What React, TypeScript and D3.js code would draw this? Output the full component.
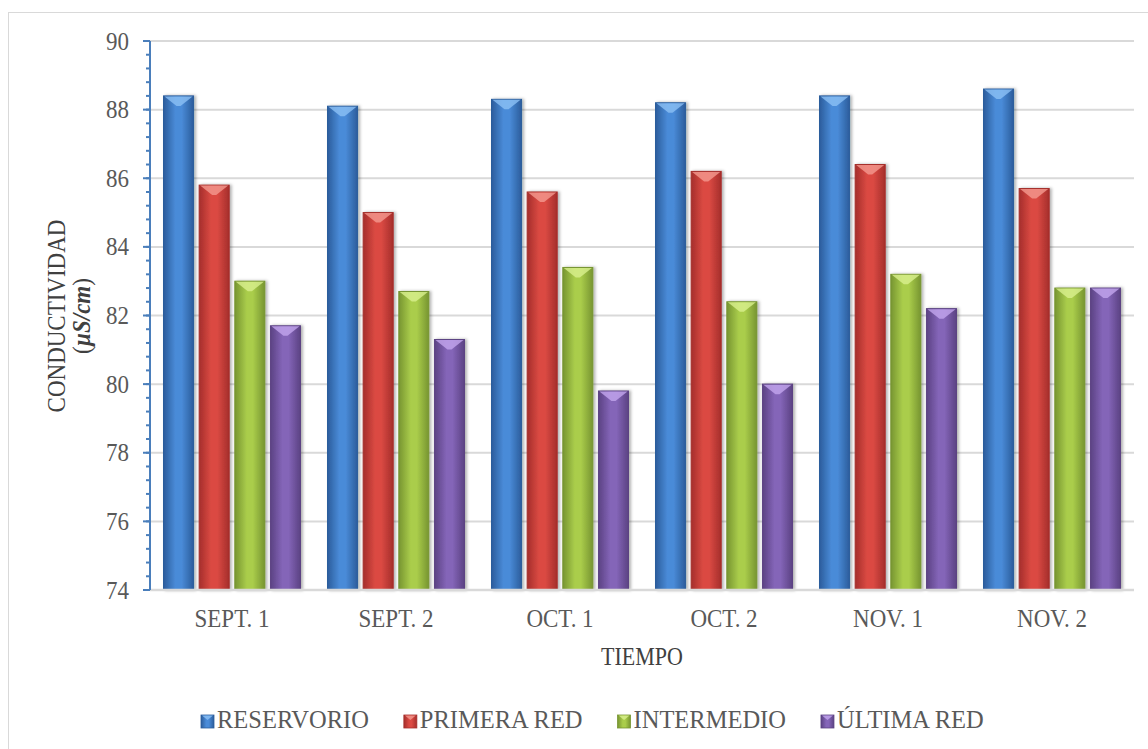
import { useEffect, useRef } from "react"
import * as d3 from "d3"

const categories = ["SEPT. 1", "SEPT. 2", "OCT. 1", "OCT. 2", "NOV. 1", "NOV. 2"]
const seriesNames = ["RESERVORIO", "PRIMERA RED", "INTERMEDIO", "ÚLTIMA RED"]
const reservorio = [88.4, 88.1, 88.3, 88.2, 88.4, 88.6]
const primeraRed = [85.8, 85.0, 85.6, 86.2, 86.4, 85.7]
const intermedio = [83.0, 82.7, 83.4, 82.4, 83.2, 82.8]
const ultimaRed = [81.7, 81.3, 79.8, 80.0, 82.2, 82.8]
const yTicks = [74, 76, 78, 80, 82, 84, 86, 88, 90]

// edge, center, top cap
const palette = [
  { edge: "#2c5d9c", mid: "#4a8bd8", cap: "#8cc0f5" },
  { edge: "#a52e2b", mid: "#db4a43", cap: "#f49a90" },
  { edge: "#779531", mid: "#aacd4b", cap: "#d9f08e" },
  { edge: "#5b4283", mid: "#8465b8", cap: "#c3a6ee" },
]

const FONT = "'Liberation Serif', 'Times New Roman', serif"

export default function App() {
  const svgRef = useRef<SVGSVGElement | null>(null)

  useEffect(() => {
    if (!svgRef.current) return
    const svg = d3.select(svgRef.current)
    svg.selectAll("*").remove()

    const width = 1148
    const height = 749
    const plot = { left: 150, right: 1134, top: 41, bottom: 590 }
    const series = [reservorio, primeraRed, intermedio, ultimaRed]

    svg.attr("width", width).attr("height", height).attr("viewBox", `0 0 ${width} ${height}`)

    const defs = svg.append("defs")
    palette.forEach((p, i) => {
      const g = defs
        .append("linearGradient")
        .attr("id", `bar-grad-${i}`)
        .attr("x1", "0%")
        .attr("x2", "100%")
      g.append("stop").attr("offset", "0%").attr("stop-color", p.edge)
      g.append("stop").attr("offset", "40%").attr("stop-color", p.mid)
      g.append("stop").attr("offset", "60%").attr("stop-color", p.mid)
      g.append("stop").attr("offset", "100%").attr("stop-color", p.edge)
    })
    const shadow = defs.append("filter").attr("id", "bar-shadow").attr("x", "-20%").attr("width", "150%")
    shadow
      .append("feDropShadow")
      .attr("dx", 2)
      .attr("dy", 0)
      .attr("stdDeviation", 1.5)
      .attr("flood-color", "#000")
      .attr("flood-opacity", 0.3)

    // outer border
    svg
      .append("rect")
      .attr("x", 8.5)
      .attr("y", 12.5)
      .attr("width", width + 10)
      .attr("height", height + 10)
      .attr("fill", "#fff")
      .attr("stroke", "#d9d9d9")

    const x = d3.scaleBand<string>().domain(categories).range([plot.left, plot.right]).padding(0)
    const xInner = d3
      .scaleBand<string>()
      .domain(seriesNames)
      .range([13.5, x.bandwidth() - 13.5])
      .paddingInner(0.157)
      .paddingOuter(0)
    const y = d3.scaleLinear().domain([74, 90]).range([plot.bottom, plot.top])

    // gridlines
    svg
      .append("g")
      .selectAll("line")
      .data(yTicks.filter((t) => t > 74))
      .join("line")
      .attr("x1", plot.left)
      .attr("x2", plot.right)
      .attr("y1", (d) => y(d))
      .attr("y2", (d) => y(d))
      .attr("stroke", "#d9d9d9")
      .attr("stroke-width", 2)

    // bars
    const groups = svg
      .append("g")
      .selectAll("g")
      .data(categories)
      .join("g")
      .attr("transform", (c) => `translate(${x(c)},0)`)

    groups.each(function (c, ci) {
      const g = d3.select(this)
      seriesNames.forEach((s, si) => {
        const v = series[si][ci]
        const bx = xInner(s) ?? 0
        const bw = xInner.bandwidth()
        const top = y(v)
        g.append("rect")
          .attr("x", bx)
          .attr("y", top)
          .attr("width", bw)
          .attr("height", y(74) - top)
          .attr("fill", `url(#bar-grad-${si})`)
          .attr("stroke", palette[si].edge)
          .attr("stroke-width", 1)
          .attr("filter", "url(#bar-shadow)")
        g.append("polygon")
          .attr(
            "points",
            `${bx + 1},${top + 0.5} ${bx + bw - 1},${top + 0.5} ${bx + bw / 2 + 2},${top + 10} ${bx + bw / 2 - 2},${top + 10}`
          )
          .attr("fill", palette[si].cap)
          .attr("opacity", 0.8)
      })
    })

    // x axis line
    svg
      .append("line")
      .attr("x1", plot.left)
      .attr("x2", plot.right)
      .attr("y1", plot.bottom)
      .attr("y2", plot.bottom)
      .attr("stroke", "#d9d9d9")
      .attr("stroke-width", 2.5)

    // y axis with minor ticks
    const yAxis = svg.append("g")
    const minor = d3.range(0, 41).map((i) => 74 + i * 0.4)
    yAxis
      .selectAll("line.minor")
      .data(minor)
      .join("line")
      .attr("class", "minor")
      .attr("x1", plot.left - 4)
      .attr("x2", plot.left)
      .attr("y1", (d) => y(d))
      .attr("y2", (d) => y(d))
      .attr("stroke", "#4a7ebb")
      .attr("stroke-width", 2)
    yAxis
      .selectAll("line.major")
      .data(yTicks)
      .join("line")
      .attr("class", "major")
      .attr("x1", plot.left - 7)
      .attr("x2", plot.left)
      .attr("y1", (d) => y(d))
      .attr("y2", (d) => y(d))
      .attr("stroke", "#4a7ebb")
      .attr("stroke-width", 2)
    yAxis
      .append("line")
      .attr("x1", plot.left)
      .attr("x2", plot.left)
      .attr("y1", plot.top)
      .attr("y2", plot.bottom)
      .attr("stroke", "#4a7ebb")
      .attr("stroke-width", 2)
    yAxis
      .selectAll("text")
      .data(yTicks)
      .join("text")
      .text((d) => d)
      .attr("transform", (d) => `translate(129,${y(d)}) scale(1,1.12)`)
      .attr("dy", "0.33em")
      .attr("text-anchor", "end")
      .attr("font-family", FONT)
      .attr("font-size", 23)
      .attr("fill", "#595959")

    // x labels
    svg
      .append("g")
      .selectAll("text")
      .data(categories)
      .join("text")
      .text((d) => d)
      .attr("transform", (d) => `translate(${(x(d) ?? 0) + x.bandwidth() / 2},627) scale(1,1.1)`)
      .attr("text-anchor", "middle")
      .attr("font-family", FONT)
      .attr("font-size", 23)
      .attr("fill", "#595959")

    // axis titles
    svg
      .append("text")
      .text("TIEMPO")
      .attr("transform", `translate(${(plot.left + plot.right) / 2},665) scale(1,1.1)`)
      .attr("text-anchor", "middle")
      .attr("font-family", FONT)
      .attr("font-size", 22)
      .attr("fill", "#404040")

    const yTitle = svg
      .append("text")
      .attr("transform", "translate(65,316) rotate(-90) scale(1,1.1)")
      .attr("text-anchor", "middle")
      .attr("font-family", FONT)
      .attr("font-size", 23)
      .attr("fill", "#404040")
    yTitle.append("tspan").attr("x", 0).attr("y", 0).text("CONDUCTIVIDAD")
    const unit = yTitle.append("tspan").attr("x", 0).attr("y", 23)
    unit.append("tspan").text("(")
    unit.append("tspan").attr("font-weight", "bold").attr("font-style", "italic").text("µS/cm")
    unit.append("tspan").text(")")

    // legend
    const legend = svg.append("g")
    let cursor = 201
    seriesNames.forEach((s, si) => {
      legend
        .append("rect")
        .attr("x", cursor)
        .attr("y", 715)
        .attr("width", 13)
        .attr("height", 13)
        .attr("fill", `url(#bar-grad-${si})`)
        .attr("stroke", palette[si].edge)
        .attr("stroke-width", 0.8)
      legend
        .append("polygon")
        .attr("points", `${cursor + 1},${715.5} ${cursor + 12},${715.5} ${cursor + 6.5},${720}`)
        .attr("fill", palette[si].cap)
        .attr("opacity", 0.8)
      const t = legend
        .append("text")
        .text(s)
        .attr("x", cursor + 16)
        .attr("y", 728)
        .attr("font-family", FONT)
        .attr("font-size", 24.5)
        .attr("fill", "#595959")
      const len = (t.node() as SVGTextElement).getComputedTextLength()
      cursor += 16 + len + 35
    })
  }, [])

  return (
    <svg
      ref={svgRef}
      style={{ position: "absolute", left: 0, top: 0, display: "block" }}
      width={1148}
      height={749}
    />
  )
}
